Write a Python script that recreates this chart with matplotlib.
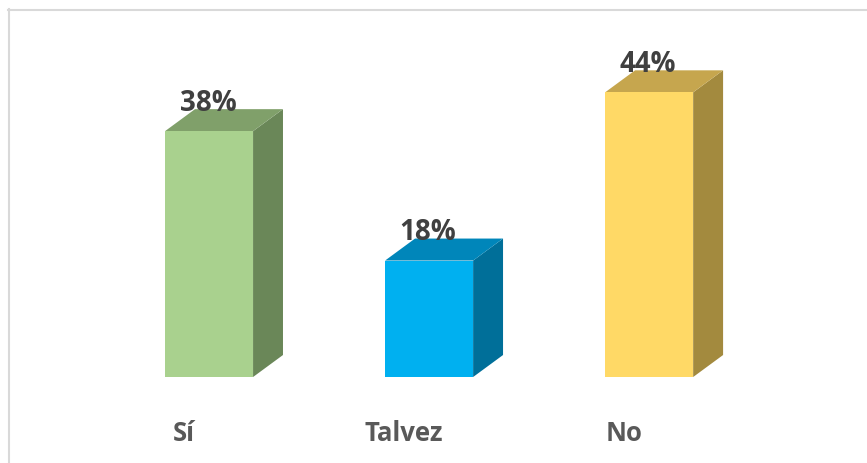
import numpy as np
import matplotlib.pyplot as plt
from matplotlib.patches import Polygon
from matplotlib.lines import Line2D

categories = ['Sí', 'Talvez', 'No']
values = [38, 18, 44]
labels = ['38%', '18%', '44%']

front_colors = ['#A9D18E', '#00B0F0', '#FFD966']
top_colors = ['#80A06A', '#0086BA', '#C6A64E']
side_colors = ['#6A8758', '#006F99', '#A38A3E']

width = 0.4
dx = 0.136   # depth offset in x
dy = 3.4     # depth offset in value units

fig = plt.figure(figsize=(8.67, 4.63), dpi=100)
ax = fig.add_axes([0, 0, 1, 1])
ax.set_xlim(-0.95, 2.99)
ax.set_ylim(-13.29, 58.27)
ax.axis('off')

for i, v in enumerate(values):
    x0 = i - width / 2
    x1 = i + width / 2
    # side face
    ax.add_patch(Polygon([(x1, 0), (x1 + dx, dy), (x1 + dx, v + dy), (x1, v)],
                         closed=True, facecolor=side_colors[i], edgecolor='none'))
    # top face
    ax.add_patch(Polygon([(x0, v), (x1, v), (x1 + dx, v + dy), (x0 + dx, v + dy)],
                         closed=True, facecolor=top_colors[i], edgecolor='none'))
    # front face
    ax.add_patch(Polygon([(x0, 0), (x1, 0), (x1, v), (x0, v)],
                         closed=True, facecolor=front_colors[i], edgecolor='none'))
    ax.text(i - 0.005, v + 3.1, labels[i], ha='center', va='baseline',
            fontsize=20, fontweight='bold', family='Open Sans', color='#404040')
    ax.text(i - 0.114, -9.9, categories[i], ha='center', va='baseline',
            fontsize=18.5, fontweight='bold', family='Open Sans', color='#595959')

# chart border (top and left edges visible)
fig.add_artist(Line2D([8 / 867, 1], [1 - 9.5 / 463, 1 - 9.5 / 463],
                      color='#D9D9D9', lw=1.5, transform=fig.transFigure))
fig.add_artist(Line2D([8.5 / 867, 8.5 / 867], [0, 1 - 9 / 463],
                      color='#D9D9D9', lw=1.5, transform=fig.transFigure))

plt.savefig('out.png', dpi=100)
